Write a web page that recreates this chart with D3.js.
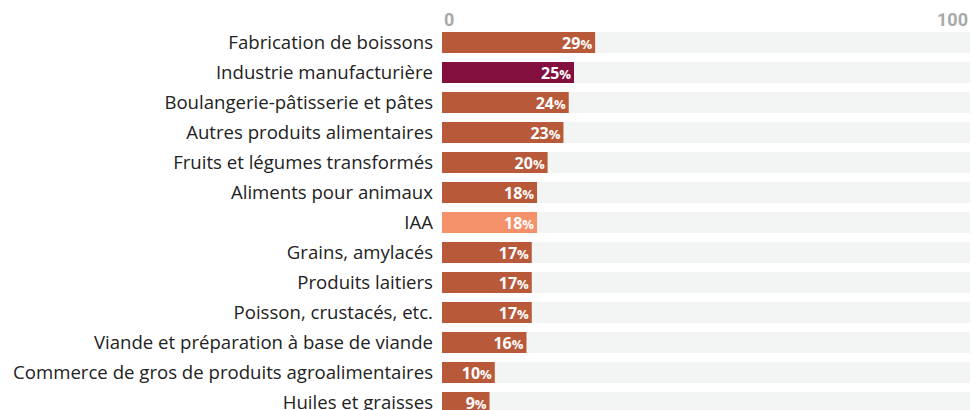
<!DOCTYPE html>
<html lang="fr">
<head>
<meta charset="UTF-8" />
<title>Barres</title>
<script src="https://cdn.jsdelivr.net/npm/d3@7"></script>
<style>
  body { margin: 0; background: #fff; }
  #svgBox { width: 972px; height: 410px; display: block; }
</style>
</head>
<body>
<svg id="svgBox"></svg>
<script>
  const categories = [
    'Fabrication de boissons',
    'Industrie manufacturière',
    'Boulangerie-pâtisserie et pâtes',
    'Autres produits alimentaires',
    'Fruits et légumes transformés',
    'Aliments pour animaux',
    'IAA',
    'Grains, amylacés',
    'Produits laitiers',
    'Poisson, crustacés, etc.',
    'Viande et préparation à base de viande',
    'Commerce de gros de produits agroalimentaires',
    'Huiles et graisses'
  ]
  const values = [29, 25, 24, 23, 20, 18, 18, 17, 17, 17, 16, 10, 9]
  const tickLabels = [0, 100]

  function init() {
    const svg = d3.select('#svgBox')
    const margin = { top: 32, left: 442, right: 2 }
    const width = 972
    const step = 30, barH = 21

    const xScale = d3.scaleLinear().domain([0, 100]).range([margin.left, width - margin.right])
    // bande de 21px, pas de 30px
    const yScale = d3.scaleBand()
      .domain(categories)
      .range([margin.top, margin.top + step * categories.length - (step - barH)])
      .paddingInner((step - barH) / step)
      .paddingOuter(0)

    const colorOf = name => name === 'Industrie manufacturière' ? '#820f3e'
      : name === 'IAA' ? '#f4906a' : '#b85a3a'

    // axe du haut
    svg.append('g').selectAll('text')
      .data(tickLabels)
      .join('text')
      .attr('x', d => xScale(d) + (d === 0 ? 2 : -2))
      .attr('y', 26)
      .attr('text-anchor', d => d === 0 ? 'start' : 'end')
      .attr('font-family', '"Liberation Sans Narrow", "Roboto", sans-serif')
      .attr('font-weight', 700)
      .attr('font-size', 18)
      .attr('fill', '#a9a9a9')
      .text(d => d)

    const rows = svg.append('g').selectAll('g')
      .data(categories)
      .join('g')

    // fond
    rows.append('rect')
      .attr('x', xScale(0))
      .attr('y', d => yScale(d))
      .attr('width', xScale(100) - xScale(0))
      .attr('height', yScale.bandwidth())
      .attr('fill', '#f2f5f4')

    rows.append('rect')
      .attr('x', xScale(0))
      .attr('y', d => yScale(d))
      .attr('width', (d, i) => xScale(values[i]) - xScale(0))
      .attr('height', yScale.bandwidth())
      .attr('fill', colorOf)

    rows.append('text')
      .attr('x', xScale(0) - 9)
      .attr('y', d => yScale(d) + yScale.bandwidth() / 2)
      .attr('dy', '0.36em')
      .attr('text-anchor', 'end')
      .attr('font-family', '"Open Sans", sans-serif')
      .attr('font-size', 18.6)
      .attr('fill', '#222')
      .text(d => d)

    const vt = rows.append('text')
      .attr('x', (d, i) => xScale(values[i]) - 3)
      .attr('y', d => yScale(d) + yScale.bandwidth() / 2)
      .attr('dy', '0.38em')
      .attr('text-anchor', 'end')
      .attr('font-family', '"Open Sans", sans-serif')
      .attr('font-weight', 700)
      .attr('font-size', 16)
      .attr('fill', '#fff')
    vt.append('tspan').text((d, i) => values[i])
    vt.append('tspan').attr('font-size', 13).text('%')
  }
  init()
</script>
</body>
</html>
